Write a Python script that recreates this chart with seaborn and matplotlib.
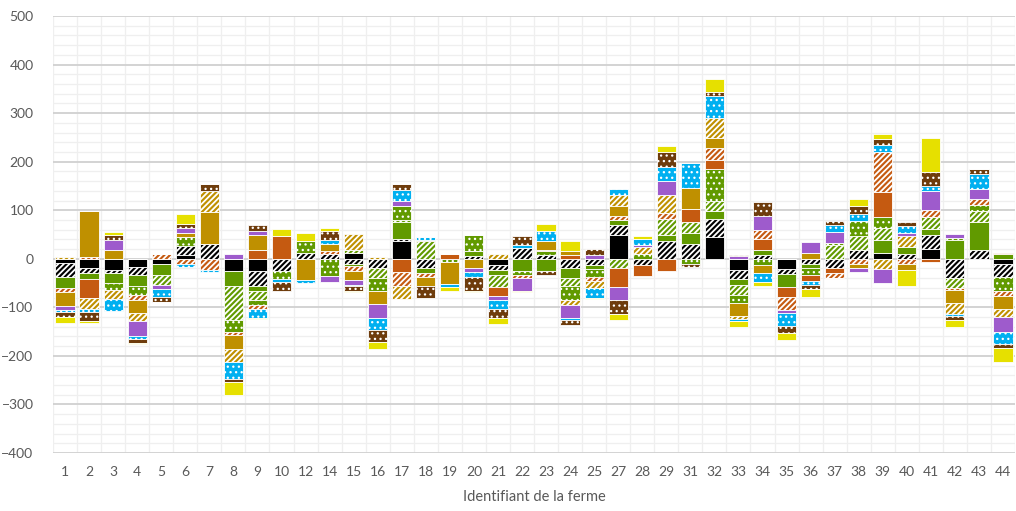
import numpy as np
import matplotlib
matplotlib.use("Agg")
import matplotlib.pyplot as plt
from matplotlib.ticker import MultipleLocator, FixedLocator
import seaborn as sns

# Farm identifiers (x categories)
farms = ["1", "2", "3", "4", "5", "6", "7", "8", "9", "10", "12", "14", "15", "16",
         "17", "18", "19", "20", "21", "22", "23", "24", "25", "27", "28", "29", "31",
         "32", "33", "34", "35", "36", "37", "38", "39", "40", "41", "42", "43", "44"]

# Stacked components, one value per farm (same order as `farms`)
noir = [-8, -18, -24, -16, -10, 8, 0, -25, -25, 0, 0, 0, 12, 0, 36, 0, 0, 0, -12, 0,
        0, 0, 0, 49, 0, 0, 0, 44, -23, 0, -21, 0, 0, 0, 12, 0, 20, 0, 0, -10]
noir_raye = [-29, -12, -6, -17, 0, 19, 30, 0, -31, -25, 12, 10, -10, -18, 5, -19, 0, 5, -11, 23,
             8, -19, -12, 21, -12, 36, 31, 38, -19, 7, -10, -10, -20, 19, 0, 10, 29, -40, 19, -28]
vert = [-24, -12, -20, -24, -23, 0, 0, -31, -11, 0, 0, 0, -4, 0, 34, -11, 0, 10, -10, -26,
        -26, -21, -9, 10, 0, 13, 22, 16, -12, 12, -27, -9, 0, 0, 27, 15, 12, 38, 56, 10]
vert_raye = [0, 0, 0, 0, -21, 0, 0, -70, -18, 0, 0, 0, 7, -22, 5, 36, 0, 0, -25, 0,
             0, -17, 0, -19, 0, 33, 22, 22, -20, 0, 0, 0, 29, 28, 24, 0, 26, -20, 23, 0]
vert_points = [0, 0, -14, -17, 0, 18, 0, -24, -11, -17, 24, -36, 0, -27, 29, 0, -7, 33, 0, -7,
               7, -28, -17, 0, 10, 0, -10, 65, -17, -12, 0, -14, 3, 30, 24, 0, 0, 4, 13, -29]
orange = [0, -39, 0, 0, 0, 0, 0, 0, 19, 46, 0, 0, 0, 0, -27, 3, 10, 0, -18, 0,
          3, 8, 0, -39, -24, -26, 28, 18, 0, 22, -21, -12, -10, 0, 50, 0, -7, 0, 0, 2]
orange_raye = [-7, 4, 0, -11, 10, -10, -23, -8, -8, 0, 0, 5, -12, 0, -30, -8, 0, 0, 0, -7,
               0, 0, -7, 9, 0, 12, 0, 25, 0, 19, -26, 0, -9, -10, 83, -10, 14, -5, 12, -9]
or_plein = [-29, 95, 19, -27, 0, 8, 66, -28, 30, 0, -43, 15, -17, -26, 0, -18, -45, -19, 0, 0,
            19, 7, 0, 20, 0, 0, 43, 21, -27, -18, 0, 12, 0, -9, 0, -14, 0, -26, 0, -28]
or_raye = [3, -23, -19, -17, 0, 0, 43, -26, 0, 0, 0, 0, 33, 4, -26, 0, 0, 0, 10, 0,
           0, -10, -16, 23, 15, 38, 0, 41, -6, 0, 0, 0, 0, 0, -21, 22, 0, -22, 0, -16]
violet = [-8, 0, 19, -30, -8, 10, 0, 10, 9, 0, 0, -11, -10, -29, 11, 0, 0, -8, -9, -26,
          0, -27, 8, -27, 3, 29, 0, 0, 5, 29, -6, 22, 23, -8, -29, 7, 38, 10, 21, -30]
bleu_points = [-4, -6, -24, -7, -17, -6, -4, -36, -17, -5, -6, 9, -3, -24, 22, 5, -6, -11, -19, 5,
               20, -5, -20, 12, 13, 29, 51, 45, -5, -17, -27, -9, 15, 16, 15, 14, 10, -4, 31, -25]
brun_points = [-10, -19, 10, -8, -9, 8, 16, -5, 11, -20, 0, 19, -10, -26, 13, -25, 0, -29, -18, 18,
               -7, -9, 13, -28, 0, 29, -6, 8, 3, 28, -14, -8, 7, 16, 12, 8, 29, -9, 10, -9]
jaune = [-14, -3, 7, -2, -2, 21, 0, -27, -3, 15, 18, 5, -2, -14, 0, 0, -9, -2, -13, -2,
         14, 21, -2, -14, 5, 14, 0, 27, -12, -9, -16, -16, -1, 14, 10, -32, 71, -14, 0, -28]

y_ticks = list(range(-400, 501, 100))

STRIPES = "//////"
DOTS = "..."

# fill style of each component: (data, face colour, hatch)
components = [
    (noir, "#000000", None),
    (noir_raye, "#000000", STRIPES),
    (vert, "#619a00", None),
    (vert_raye, "#619a00", STRIPES),
    (vert_points, "#619a00", DOTS),
    (orange, "#c55a11", None),
    (orange_raye, "#c55a11", STRIPES),
    (or_plein, "#bf9000", None),
    (or_raye, "#bf9000", STRIPES),
    (violet, "#9e5bcc", None),
    (bleu_points, "#00b0f0", DOTS),
    (brun_points, "#6e3c0c", DOTS),
    (jaune, "#e6e000", None),
]

sns.set_theme(style="white")
plt.rcParams["font.family"] = ["Lato", "DejaVu Sans"]
plt.rcParams["hatch.linewidth"] = 1.3

fig = plt.figure(figsize=(10.16, 5.11), dpi=100)
ax = fig.add_axes([53 / 1016, 1 - 453 / 511, (1015 - 53) / 1016, (453 - 16) / 511])

pos_base = np.zeros(len(farms))
neg_base = np.zeros(len(farms))
for values, colour, hatch in components:
    v = np.asarray(values, dtype=float)
    bottom = np.where(v >= 0, pos_base, neg_base)
    # dotted fills use a thinner hatch stroke so the dots stay small
    lw = 0.9 if hatch == DOTS else 1.3
    with plt.rc_context({"hatch.linewidth": lw}):
        sns.barplot(x=farms, y=v, order=farms, bottom=bottom, color=colour,
                    saturation=1, errorbar=None, width=0.8, ax=ax,
                    edgecolor="white", linewidth=0.6, hatch=hatch, zorder=3)
    pos_base += np.clip(v, 0, None)
    neg_base += np.clip(v, None, 0)

ax.set_xlim(-0.5, len(farms) - 0.5)
ax.set_ylim(-400, 500)
ax.yaxis.set_major_locator(FixedLocator(y_ticks))
ax.yaxis.set_minor_locator(MultipleLocator(20))
ax.xaxis.set_minor_locator(FixedLocator(np.arange(-0.5, len(farms), 1.0)))

ax.grid(False)
ax.grid(which="minor", axis="both", color="#efefef", linewidth=0.9, zorder=0)
ax.grid(which="major", axis="y", color="#d0d0d0", linewidth=1.3, zorder=1)
ax.set_axisbelow(True)

for s in ax.spines.values():
    s.set_visible(False)

ax.tick_params(axis="both", which="both", length=0)
ax.tick_params(axis="y", labelsize=10, labelcolor="#595959", pad=14)
ax.tick_params(axis="x", labelsize=10, labelcolor="#595959", pad=9)
ax.set_ylabel("")
ax.set_xlabel("Identifiant de la ferme", fontsize=10.5, color="#595959", labelpad=9)

fig.savefig("out.png", dpi=100, facecolor="white")
